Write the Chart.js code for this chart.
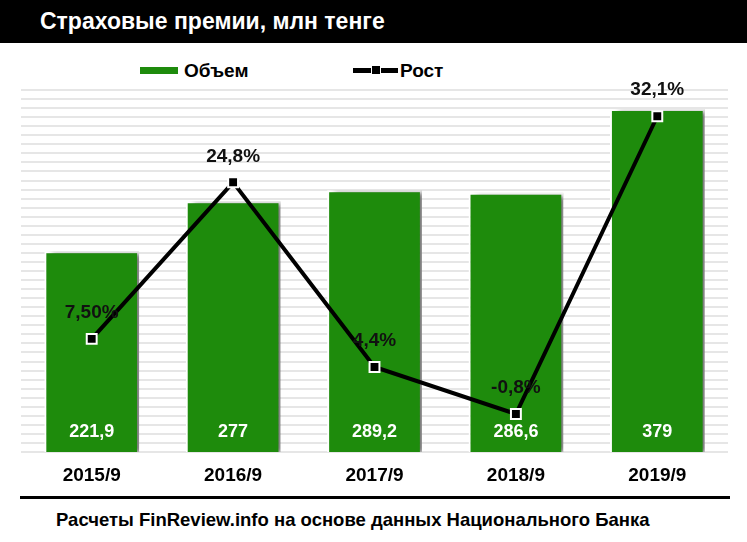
<!DOCTYPE html>
<html>

<head>
    <title>Страховые премии</title>
    <script src="https://cdn.jsdelivr.net/npm/chart.js"></script>
    <style>
        body { margin: 0; background: #fff; width: 747px; height: 542px; position: relative; overflow: hidden; font-family: "Liberation Sans", Arial, sans-serif; }
        .title-bar { position: absolute; left: 0; top: 0; width: 747px; height: 43px; background: #000; }
        .title-bar span { position: absolute; left: 40px; top: 8px; color: #fff; font-weight: bold; font-size: 23px; line-height: 27px; }
        .legend { position: absolute; top: 59px; left: 0; font-weight: bold; font-size: 19px; line-height: 23px; }
        .legend .item { position: absolute; top: 0; white-space: nowrap; }
        .swatch-bar { display: inline-block; width: 38px; height: 7px; background: #1e8b0c; vertical-align: middle; margin-right: 6px; position: relative; top: -1px; }
        .swatch-line { display: inline-block; width: 45px; height: 5px; background: #000; vertical-align: middle; margin-right: 2px; position: relative; top: -1px; }
        .swatch-line i { position: absolute; left: 18px; top: -3px; width: 10px; height: 10px; background: #000; border: 1px solid #fff; box-sizing: border-box; }
        #chart-box { position: absolute; left: 0; top: 43px; width: 747px; height: 450px; }
        .rule { position: absolute; left: 20px; top: 496px; width: 710px; height: 3px; background: #000; }
        .source { position: absolute; left: 56px; top: 509px; font-weight: bold; font-size: 18.5px; color: #000; }
    </style>
</head>

<body>
    <div class="title-bar"><span>Страховые премии, млн тенге</span></div>

    <div class="legend">
        <div class="item" style="left: 140px;"><span class="swatch-bar"></span>Объем</div>
        <div class="item" style="left: 353px;"><span class="swatch-line"><i></i></span>Рост</div>
    </div>

    <div id="chart-box">
        <canvas id="premiums-chart" width="747" height="450"></canvas>
    </div>

    <div class="rule"></div>
    <div class="source">Расчеты FinReview.info на основе данных Национального Банка</div>

    <script>
        // Data
        const periods = ['2015/9', '2016/9', '2017/9', '2018/9', '2019/9'];
        const volume = [221.9, 277, 289.2, 286.6, 379];       // млн тенге
        const growth = [7.5, 24.8, 4.4, -0.8, 32.1];          // %
        const growthLabels = ['7,50%', '24,8%', '4,4%', '-0,8%', '32,1%'];

        const green = '#1e8b0c';

        // drop shadow behind the bars
        const barShadow = {
            id: 'barShadow',
            beforeDatasetDraw(chart, args) {
                if (args.index !== 0) return;
                const ctx = chart.ctx;
                ctx.save();
                ctx.shadowColor = 'rgba(0, 0, 0, 0.5)';
                ctx.shadowOffsetX = 6;
                ctx.shadowOffsetY = 1;
                ctx.shadowBlur = 5;
            },
            afterDatasetDraw(chart, args) {
                if (args.index !== 0) return;
                chart.ctx.restore();
            }
        };

        // value labels (no datalabels plugin available offline)
        const valueLabels = {
            id: 'valueLabels',
            afterDatasetsDraw(chart) {
                const ctx = chart.ctx;
                const base = chart.scales.y.getPixelForValue(0);
                ctx.save();
                ctx.textAlign = 'center';
                ctx.textBaseline = 'middle';

                ctx.font = 'bold 18px "Liberation Sans", Arial, sans-serif';
                ctx.fillStyle = '#fff';
                chart.getDatasetMeta(0).data.forEach((bar, i) => {
                    ctx.fillText(String(volume[i]).replace('.', ','), bar.x, base - 20);
                });

                ctx.font = 'bold 19px "Liberation Sans", Arial, sans-serif';
                ctx.fillStyle = '#111';
                chart.getDatasetMeta(1).data.forEach((pt, i) => {
                    ctx.fillText(growthLabels[i], pt.x, pt.y - 26);
                });
                ctx.restore();
            }
        };

        const ctx = document.getElementById('premiums-chart').getContext('2d');
        new Chart(ctx, {
            data: {
                labels: periods,
                datasets: [
                    {
                        type: 'bar',
                        label: 'Объем',
                        data: volume,
                        yAxisID: 'y',
                        backgroundColor: green,
                        borderColor: '#fff',
                        borderWidth: 2,
                        categoryPercentage: 1,
                        barPercentage: 0.67,
                        order: 2
                    },
                    {
                        type: 'line',
                        label: 'Рост',
                        data: growth,
                        yAxisID: 'y1',
                        borderColor: '#000',
                        borderWidth: 4,
                        pointStyle: 'rect',
                        pointRadius: 7,
                        pointBackgroundColor: '#000',
                        pointBorderColor: '#fff',
                        pointBorderWidth: 2,
                        tension: 0,
                        clip: false,
                        order: 1
                    }
                ]
            },
            options: {
                responsive: false,
                animation: false,
                layout: {
                    padding: { left: 21, right: 19, top: 47, bottom: 0 }
                },
                plugins: {
                    legend: { display: false },
                    tooltip: { enabled: false }
                },
                scales: {
                    x: {
                        grid: { display: false, drawTicks: false },
                        border: { display: false },
                        afterFit: (axis) => { axis.height = 41; },
                        ticks: {
                            color: '#000',
                            padding: 12,
                            font: { family: '"Liberation Sans", Arial, sans-serif', size: 19, weight: 'bold' }
                        }
                    },
                    y: {
                        display: false,
                        min: 0,
                        max: 400
                    },
                    y1: {
                        position: 'left',
                        min: -5,
                        max: 35,
                        ticks: { display: false, stepSize: 1 },
                        border: { display: false },
                        grid: { color: '#e6e6e6', lineWidth: 2, drawTicks: false }
                    }
                }
            },
            plugins: [barShadow, valueLabels]
        });
    </script>
</body>

</html>
